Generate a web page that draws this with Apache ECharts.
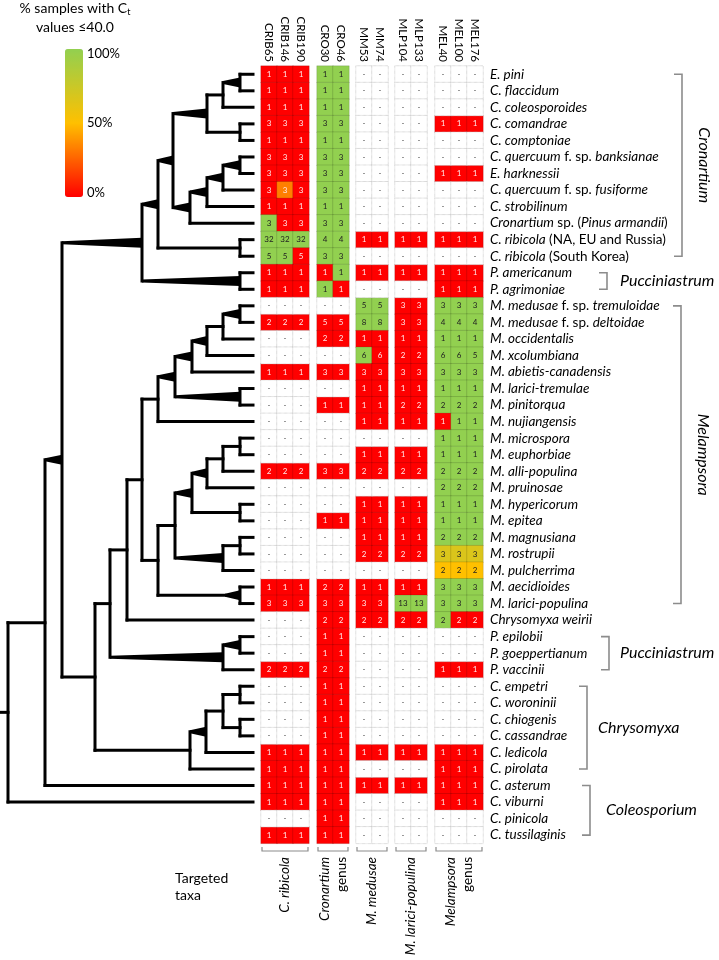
<!DOCTYPE html>
<html>
<head>
<meta charset="utf-8">
<script src="https://cdn.jsdelivr.net/npm/echarts@6/dist/echarts.min.js"></script>
<style>
  html, body { margin: 0; padding: 0; background: #fff; }
  #main { width: 719px; height: 960px; }
</style>
</head>
<body>
<div id="main"></div>
<script>
const _ = null;

// assays (columns), grouped by targeted taxon
const assays = ['CRIB65', 'CRIB146', 'CRIB190', 'CRO30', 'CRO46', 'MM53', 'MM74', 'MLP104', 'MLP133', 'MEL40', 'MEL100', 'MEL176'];
const blockSizes = [3, 2, 2, 2, 3];
const targets = [['C. ribicola'], ['Cronartium', 'genus'], ['M. medusae'], ['M. larici-populina'], ['Melampsora', 'genus']];

const taxa = [
  'E. pini', 'C. flaccidum', 'C. coleosporoides', 'C. comandrae', 'C. comptoniae',
  'C. quercuum f. sp. banksianae', 'E. harknessii', 'C. quercuum f. sp. fusiforme', 'C. strobilinum',
  'Cronartium sp. (Pinus armandii)', 'C. ribicola (NA, EU and Russia)', 'C. ribicola (South Korea)',
  'P. americanum', 'P. agrimoniae', 'M. medusae f. sp. tremuloidae', 'M. medusae f. sp. deltoidae',
  'M. occidentalis', 'M. xcolumbiana', 'M. abietis-canadensis', 'M. larici-tremulae', 'M. pinitorqua',
  'M. nujiangensis', 'M. microspora', 'M. euphorbiae', 'M. alli-populina', 'M. pruinosae',
  'M. hypericorum', 'M. epitea', 'M. magnusiana', 'M. rostrupii', 'M. pulcherrima', 'M. aecidioides',
  'M. larici-populina', 'Chrysomyxa weirii', 'P. epilobii', 'P. goeppertianum', 'P. vaccinii',
  'C. empetri', 'C. woroninii', 'C. chiogenis', 'C. cassandrae', 'C. ledicola', 'C. pirolata',
  'C. asterum', 'C. viburni', 'C. pinicola', 'C. tussilaginis'
];

// number of samples tested per taxon and assay (null = not tested)
const counts = [
  [1,1,1, 1,1, _,_, _,_, _,_,_],
  [1,1,1, 1,1, _,_, _,_, _,_,_],
  [1,1,1, 1,1, _,_, _,_, _,_,_],
  [3,3,3, 3,3, _,_, _,_, 1,1,1],
  [1,1,1, 1,1, _,_, _,_, _,_,_],
  [3,3,3, 3,3, _,_, _,_, _,_,_],
  [3,3,3, 3,3, _,_, _,_, 1,1,1],
  [3,3,3, 3,3, _,_, _,_, _,_,_],
  [1,1,1, 1,1, _,_, _,_, _,_,_],
  [3,3,3, 3,3, _,_, _,_, _,_,_],
  [32,32,32, 4,4, 1,1, 1,1, 1,1,1],
  [5,5,5, 3,3, _,_, _,_, _,_,_],
  [1,1,1, 1,1, 1,1, 1,1, 1,1,1],
  [1,1,1, 1,1, _,_, _,_, 1,1,1],
  [_,_,_, _,_, 5,5, 3,3, 3,3,3],
  [2,2,2, 5,5, 8,8, 3,3, 4,4,4],
  [_,_,_, 2,2, 1,1, 1,1, 1,1,1],
  [_,_,_, _,_, 6,6, 2,2, 6,6,5],
  [1,1,1, 3,3, 3,3, 3,3, 3,3,3],
  [_,_,_, _,_, 1,1, 1,1, 1,1,1],
  [_,_,_, 1,1, 1,1, 2,2, 2,2,2],
  [_,_,_, _,_, 1,1, 1,1, 1,1,1],
  [_,_,_, _,_, _,_, _,_, 1,1,1],
  [_,_,_, _,_, 1,1, 1,1, 1,1,1],
  [2,2,2, 3,3, 2,2, 2,2, 2,2,2],
  [_,_,_, _,_, _,_, _,_, 2,2,2],
  [_,_,_, _,_, 1,1, 1,1, 1,1,1],
  [_,_,_, 1,1, 1,1, 1,1, 1,1,1],
  [_,_,_, _,_, 1,1, 1,1, 2,2,2],
  [_,_,_, _,_, 2,2, 2,2, 3,3,3],
  [_,_,_, _,_, _,_, _,_, 2,2,2],
  [1,1,1, 2,2, 1,1, 1,1, 3,3,3],
  [3,3,3, 3,3, 3,3, 13,13, 3,3,3],
  [_,_,_, 2,2, 2,2, 2,2, 2,2,2],
  [_,_,_, 1,1, _,_, _,_, _,_,_],
  [_,_,_, 1,1, _,_, _,_, _,_,_],
  [2,2,2, 2,2, _,_, _,_, 1,1,1],
  [_,_,_, 1,1, _,_, _,_, _,_,_],
  [_,_,_, 1,1, _,_, _,_, _,_,_],
  [_,_,_, 1,1, _,_, _,_, _,_,_],
  [_,_,_, 1,1, _,_, _,_, _,_,_],
  [1,1,1, 1,1, 1,1, 1,1, 1,1,1],
  [1,1,1, 1,1, _,_, _,_, 1,1,1],
  [1,1,1, 1,1, 1,1, 1,1, 1,1,1],
  [1,1,1, 1,1, _,_, _,_, 1,1,1],
  [_,_,_, 1,1, _,_, _,_, _,_,_],
  [1,1,1, 1,1, _,_, _,_, _,_,_]
];

// % of samples with Ct <= 40.0
const positive = [
  [0,0,0, 100,100, _,_, _,_, _,_,_],
  [0,0,0, 100,100, _,_, _,_, _,_,_],
  [0,0,0, 100,100, _,_, _,_, _,_,_],
  [0,0,0, 100,100, _,_, _,_, 0,0,0],
  [0,0,0, 100,100, _,_, _,_, _,_,_],
  [0,0,0, 100,100, _,_, _,_, _,_,_],
  [0,0,0, 100,100, _,_, _,_, 0,0,0],
  [0,33,0, 100,100, _,_, _,_, _,_,_],
  [0,0,0, 100,100, _,_, _,_, _,_,_],
  [100,0,0, 100,100, _,_, _,_, _,_,_],
  [100,100,100, 100,100, 0,0, 0,0, 0,0,0],
  [100,100,0, 100,100, _,_, _,_, _,_,_],
  [0,0,0, 0,100, 0,0, 0,0, 0,0,0],
  [0,0,0, 100,0, _,_, _,_, 0,0,0],
  [_,_,_, _,_, 100,100, 0,0, 100,100,100],
  [0,0,0, 0,0, 100,100, 0,0, 100,100,100],
  [_,_,_, 0,0, 0,0, 0,0, 100,100,100],
  [_,_,_, _,_, 100,0, 0,0, 100,100,100],
  [0,0,0, 0,0, 0,0, 0,0, 100,100,100],
  [_,_,_, _,_, 0,0, 0,0, 100,100,100],
  [_,_,_, 0,0, 0,0, 0,0, 100,100,100],
  [_,_,_, _,_, 0,0, 0,0, 0,100,100],
  [_,_,_, _,_, _,_, _,_, 100,100,100],
  [_,_,_, _,_, 0,0, 0,0, 100,100,100],
  [0,0,0, 0,0, 0,0, 0,0, 100,100,100],
  [_,_,_, _,_, _,_, _,_, 100,100,100],
  [_,_,_, _,_, 0,0, 0,0, 100,100,100],
  [_,_,_, 0,0, 0,0, 0,0, 100,100,100],
  [_,_,_, _,_, 0,0, 0,0, 100,100,100],
  [_,_,_, _,_, 0,0, 0,0, 67,67,67],
  [_,_,_, _,_, _,_, _,_, 50,50,50],
  [0,0,0, 0,0, 0,0, 0,0, 100,100,100],
  [0,0,0, 0,0, 0,0, 100,100, 100,100,100],
  [_,_,_, 0,0, 0,0, 0,0, 100,0,0],
  [_,_,_, 0,0, _,_, _,_, _,_,_],
  [_,_,_, 0,0, _,_, _,_, _,_,_],
  [0,0,0, 0,0, _,_, _,_, 0,0,0],
  [_,_,_, 0,0, _,_, _,_, _,_,_],
  [_,_,_, 0,0, _,_, _,_, _,_,_],
  [_,_,_, 0,0, _,_, _,_, _,_,_],
  [_,_,_, 0,0, _,_, _,_, _,_,_],
  [0,0,0, 0,0, 0,0, 0,0, 0,0,0],
  [0,0,0, 0,0, _,_, _,_, 0,0,0],
  [0,0,0, 0,0, 0,0, 0,0, 0,0,0],
  [0,0,0, 0,0, _,_, _,_, 0,0,0],
  [_,_,_, 0,0, _,_, _,_, _,_,_],
  [0,0,0, 0,0, _,_, _,_, _,_,_]
];

// genus brackets on the right (row indices)
const genera = [
  { name: 'Cronartium', first: 0, last: 11 },
  { name: 'Pucciniastrum', first: 12, last: 13 },
  { name: 'Melampsora', first: 14, last: 32 },
  { name: 'Pucciniastrum', first: 34, last: 36 },
  { name: 'Chrysomyxa', first: 37, last: 42 },
  { name: 'Coleosporium', first: 43, last: 46 }
];

// cladogram: x = node depth, w = branch drawn as support wedge, c = children (numbers are rows)
const cronartiumClade = { x: 142, w: 1, c: [
  { x: 158, w: 1, c: [
    { x: 173, w: 1, c: [
      { x: 207, w: 1, c: [ { x: 223, c: [ { x: 240, w: 1, c: [0, 1] }, 2 ] }, { x: 240, c: [3, 4] } ] },
      { x: 190, w: 1, c: [ { x: 207, w: 1, c: [ { x: 223, w: 1, c: [ { x: 240, w: 1, c: [5, 6] }, 7 ] }, 8 ] }, 9 ] }
    ] },
    { x: 240, c: [10, 11] }
  ] },
  { x: 240, w: 1, c: [12, 13] }
] };
const melampsoraClade = { x: 142, c: [
  { x: 158, c: [
    { x: 175, w: 1, c: [
      { x: 192, w: 1, c: [ { x: 207, w: 1, c: [ { x: 223, c: [ { x: 240, w: 1, c: [14, 15] }, 16 ] }, 17 ] }, 18 ] },
      { x: 240, w: 1, c: [19, 20] }
    ] },
    21
  ] },
  { x: 158, c: [
    { x: 175, c: [
      { x: 192, w: 1, c: [ { x: 207, w: 1, c: [ { x: 223, c: [ { x: 240, c: [22, 23] }, 24 ] }, 25 ] }, { x: 240, c: [26, 27] } ] },
      { x: 223, w: 1, c: [ { x: 240, c: [28, 29] }, 30 ] }
    ] },
    { x: 225, c: [ { x: 240, w: 1, c: [31, 32] } ] }
  ] }
] };
const chrysomyxaClade = { x: 190, c: [
  { x: 206, w: 1, c: [ { x: 223, c: [ { x: 240, c: [37, 38] }, { x: 240, c: [39, 40] } ] }, 41 ] },
  42
] };
const tree = { x: 8, c: [
  { x: 45, c: [
    { x: 62, w: 1, c: [
      cronartiumClade,
      { x: 95, c: [
        { x: 110, c: [
          { x: 127, c: [melampsoraClade, 33] },
          { x: 223, w: 1, c: [ { x: 240, w: 1, c: [34, 35] }, 36 ] }
        ] },
        chrysomyxaClade
      ] }
    ] },
    43
  ] },
  44
] };

// ---------- layout ----------
const FONT = 'Lato, "Open Sans", sans-serif';
const ROW_TOP = 66, ROW_H = 16.54, COL_W = 16;
const blockLeft = [261, 317, 356, 395, 435];
const nRows = taxa.length;
const gridH = nRows * ROW_H;
const rowY = r => ROW_TOP + (r + 0.5) * ROW_H;

const chart = echarts.init(document.getElementById('main'));

function richName(s) {
  const parts = s.split(/( f\. sp\. | sp\. \(|\)| \(NA, EU and Russia\)| \(South Korea\))/);
  return parts.map((p, i) => p === '' ? '' : '{' + (i % 2 ? 'n' : 'i') + '|' + p + '}').join('');
}

const grid = [], xAxis = [], yAxis = [], series = [], filledIdx = [];
let col0 = 0;
blockSizes.forEach((nc, b) => {
  grid.push({ left: blockLeft[b], top: ROW_TOP, width: nc * COL_W, height: gridH });
  xAxis.push({
    type: 'category', gridIndex: b, position: 'top', data: assays.slice(col0, col0 + nc),
    axisLine: { show: false }, axisTick: { show: false }, splitLine: { show: false },
    axisLabel: { rotate: 90, margin: 4, fontSize: 11.5, color: '#000', fontFamily: FONT }
  });
  const last = b === blockSizes.length - 1;
  yAxis.push({
    type: 'category', gridIndex: b, data: taxa, inverse: true, position: 'right', show: last,
    axisLine: { show: false }, axisTick: { show: false }, splitLine: { show: false },
    axisLabel: {
      margin: 7, interval: 0, formatter: richName,
      rich: {
        i: { fontStyle: 'italic', fontSize: 13.5, fontFamily: FONT, color: '#000' },
        n: { fontStyle: 'normal', fontSize: 13.5, fontFamily: FONT, color: '#000' }
      }
    }
  });
  const filled = [], empty = [];
  for (let r = 0; r < nRows; r++) {
    for (let c = 0; c < nc; c++) {
      const n = counts[r][col0 + c], p = positive[r][col0 + c];
      if (n === null) empty.push([c, r, 0]);
      else filled.push({ value: [c, r, p, n], label: { color: p < 40 ? '#ffe8e8' : '#222' } });
    }
  }
  series.push({
    type: 'heatmap', xAxisIndex: b, yAxisIndex: b, data: filled,
    itemStyle: { borderColor: 'rgba(0,0,0,0.22)', borderWidth: 0.6 },
    label: { show: true, formatter: p => p.value[3], fontSize: 8, fontFamily: FONT },
    emphasis: { disabled: true }
  });
  filledIdx.push(series.length - 1);
  series.push({
    type: 'heatmap', xAxisIndex: b, yAxisIndex: b, data: empty,
    itemStyle: { color: '#fff', borderColor: '#a8a8a8', borderWidth: 0.6, borderType: 'dotted' },
    label: { show: true, formatter: '-', fontSize: 8, color: '#333', fontFamily: FONT },
    emphasis: { disabled: true }
  });
  col0 += nc;
});

// tree grid
const TIP = 253;
const treeSegs = [];
function place(node) {
  if (typeof node === 'number') return { x: TIP, y: node + 0.5 };
  const kids = node.c.map(place);
  const ys = kids.map(k => k.y);
  const y0 = Math.min(...ys), y1 = Math.max(...ys);
  if (y1 > y0) treeSegs.push([node.x, y0, node.x, y1, 0]);
  node.c.forEach((ch, i) => treeSegs.push([node.x, kids[i].y, kids[i].x, kids[i].y, ch.w ? 1 : 0]));
  return { x: node.x, y: (y0 + y1) / 2 };
}
const rootPos = place(tree);
treeSegs.push([0, rootPos.y, tree.x, rootPos.y, 0]);

const TG = blockSizes.length;
grid.push({ left: 0, top: ROW_TOP, width: 258, height: gridH });
xAxis.push({ type: 'value', gridIndex: TG, min: 0, max: 258, show: false });
yAxis.push({ type: 'value', gridIndex: TG, min: 0, max: nRows, inverse: true, show: false });
series.push({
  type: 'custom', xAxisIndex: TG, yAxisIndex: TG, data: treeSegs, clip: false, silent: true,
  renderItem: (params, api) => {
    const a = api.coord([api.value(0), api.value(1)]);
    const b = api.coord([api.value(2), api.value(3)]);
    if (api.value(4) === 1) {
      return {
        type: 'polygon',
        shape: { points: [[a[0], a[1] - 1.5], [b[0], b[1] - 5], [b[0], b[1] + 5], [a[0], a[1] + 1.5]] },
        style: { fill: '#000' }
      };
    }
    return {
      type: 'line',
      shape: { x1: a[0], y1: a[1], x2: b[0], y2: b[1] },
      style: { stroke: '#000', lineWidth: 3, lineCap: 'square' }
    };
  }
});

// ---------- annotations ----------
const graphic = [];
// legend title
graphic.push({
  type: 'text', x: 75, y: 18,
  style: {
    text: '{a|% samples with C}{s|t}\n{a|values ≤40.0}', align: 'center', verticalAlign: 'middle',
    rich: {
      a: { fontSize: 14, fontFamily: FONT, color: '#000', lineHeight: 19 },
      s: { fontSize: 9, fontFamily: FONT, color: '#000', lineHeight: 19, padding: [7, 0, 0, 0] }
    }
  }
});
[['100%', 54], ['50%', 123], ['0%', 193]].forEach(([t, y]) => graphic.push({
  type: 'text', x: 87, y, style: { text: t, fontSize: 13, fontFamily: FONT, fill: '#000', verticalAlign: 'middle' }
}));

// bottom brackets and targeted taxa labels
const BR_Y = 851;
blockSizes.forEach((nc, b) => {
  const l = blockLeft[b] + 1, r = blockLeft[b] + nc * COL_W - 1;
  graphic.push({
    type: 'polyline', shape: { points: [[l, BR_Y - 4], [l, BR_Y], [r, BR_Y], [r, BR_Y - 4]] },
    style: { stroke: '#8c8c8c', lineWidth: 1.2, fill: null }
  });
  const t = targets[b];
  const text = t.length > 1 ? '{i|' + t[0] + '}\n{n|' + t[1] + '}' : '{i|' + t[0] + '}';
  graphic.push({
    type: 'text', x: blockLeft[b] + nc * COL_W / 2, y: 857, rotation: Math.PI / 2,
    style: {
      text, align: 'right', verticalAlign: 'middle',
      rich: {
        i: { fontStyle: 'italic', fontSize: 13.5, fontFamily: FONT, fill: '#000', lineHeight: 17, align: 'right' },
        n: { fontSize: 13.5, fontFamily: FONT, fill: '#000', lineHeight: 17, align: 'right' }
      }
    }
  });
});
graphic.push({
  type: 'text', x: 175, y: 887,
  style: { text: 'Targeted\ntaxa', fontSize: 14, fontFamily: FONT, fill: '#000', lineHeight: 17, verticalAlign: 'middle' }
});

// genus brackets on the right
const generaLayout = [
  { bx: 682, tx: 704, rot: true },
  { bx: 607, tx: 620, rot: false },
  { bx: 681, tx: 703, rot: true },
  { bx: 609, tx: 620, rot: false },
  { bx: 587, tx: 598, rot: false },
  { bx: 590, tx: 606, rot: false }
];
genera.forEach((g, i) => {
  const L = generaLayout[i];
  const y0 = rowY(g.first), y1 = rowY(g.last);
  graphic.push({
    type: 'polyline', shape: { points: [[L.bx - 8, y0], [L.bx, y0], [L.bx, y1], [L.bx - 8, y1]] },
    style: { stroke: '#8c8c8c', lineWidth: 1.6, fill: null }
  });
  graphic.push({
    type: 'text', x: L.tx, y: (y0 + y1) / 2, rotation: L.rot ? -Math.PI / 2 : 0,
    style: {
      text: g.name, fontStyle: 'italic', fontSize: 16, fontFamily: FONT, fill: '#000',
      align: L.rot ? 'center' : 'left', verticalAlign: 'middle'
    }
  });
});

chart.setOption({
  animation: false,
  backgroundColor: '#fff',
  grid, xAxis, yAxis, series, graphic,
  visualMap: {
    type: 'continuous', min: 0, max: 100, dimension: 2, seriesIndex: filledIdx,
    calculable: false, text: null, padding: 0,
    left: 65, top: 49, itemWidth: 18, itemHeight: 148,
    inRange: { color: ['#FF0000', '#FFC000', '#92D050'] }
  }
});
</script>
</body>
</html>
